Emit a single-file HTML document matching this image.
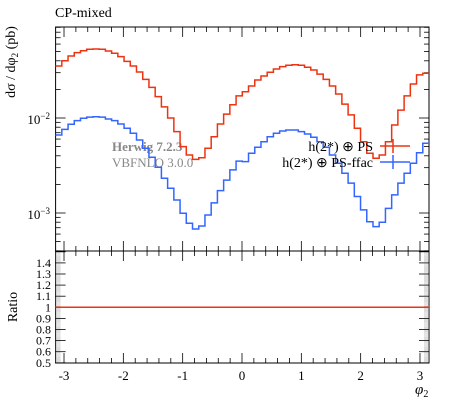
<!DOCTYPE html>
<html><head><meta charset="utf-8"><style>
body{margin:0;background:#fff}
svg{display:block;font-family:"Liberation Serif",serif}
</style></head><body>
<svg id="c" width="450" height="401" viewBox="0 0 450 401"></svg>
<script>
const unit = 1e-2;
const redVals = [3.53,4.01,4.50,4.87,5.11,5.29,5.32,5.29,5.07,4.80,4.42,3.95,3.53,3.05,2.55,2.10,1.68,1.31,1.00,0.718,0.499,0.408,0.367,0.382,0.480,0.635,0.865,1.10,1.38,1.71,
1.89,2.17,2.51,2.77,3.03,3.28,3.47,3.59,3.64,3.59,3.42,3.20,2.90,2.55,2.17,1.79,1.40,1.08,0.779,0.563,0.425,0.377,0.408,0.563,0.844,1.21,1.71,2.28,2.84,2.96];
const blueVals = [0.662,0.760,0.859,0.937,0.993,1.02,1.03,1.02,0.976,0.937,0.865,0.779,0.690,0.587,0.480,0.386,0.303,0.232,0.182,0.137,0.0993,0.078,0.0679,0.073,0.0953,0.128,0.172,0.222,0.284,0.352,
0.347,0.425,0.492,0.563,0.635,0.690,0.730,0.748,0.748,0.718,0.679,0.627,0.563,0.492,0.408,0.334,0.262,0.206,0.149,0.108,0.081,0.0718,0.0798,0.112,0.155,0.206,0.262,0.334,0.431,0.542];
const ratioVals = redVals.map(()=>1);
const xTickLabels = ["-3","-2","-1","0","1","2","3"];
const ratioTickLabels = ["0.5","0.6","0.7","0.8","0.9","1","1.1","1.2","1.3","1.4"];

const L=55.6,R=429,T=27,MB=251,RB=363;
const svg=document.getElementById('c');
const NS='http://www.w3.org/2000/svg';
function el(tag,attrs,parent){const e=document.createElementNS(NS,tag);for(const k in attrs)e.setAttribute(k,attrs[k]);(parent||svg).appendChild(e);return e;}
const xs=v=>242+v*59.33;
const ys=v=>118-(Math.log10(v)+2)*95;
const yr=v=>307.3-(v-1)*111;

let f1=el('rect',{x:L,y:T,width:R-L,height:MB-T,fill:'none',stroke:'#000','stroke-width':1});

let f2=el('rect',{x:L,y:MB,width:R-L,height:RB-MB,fill:'none',stroke:'#000','stroke-width':1});


const tg=el('g',{stroke:'#000','stroke-width':0.8});

for(let i=-15;i<=15;i++){const v=i/5;const x=xs(v);if(x<L||x>R)continue;const maj=(i%5===0);const len=maj?10:5;
 [[T,1],[MB,-1],[MB,1],[RB,-1]].forEach(([y0,d])=>el('line',{x1:x,x2:x,y1:y0,y2:y0+d*len},tg));}
for(let e=-4;e<=-1;e++)for(let m=1;m<=9;m++){const v=m*Math.pow(10,e);const y=ys(v);if(y<T||y>MB)continue;const len=m===1?10:5;
 el('line',{x1:L,x2:L+len,y1:y,y2:y},tg);el('line',{x1:R,x2:R-len,y1:y,y2:y},tg);}
const tg2=el('g',{stroke:'#aaa','stroke-width':0.4});

for(let i=50;i<=150;i++){const y=yr(i/100);if(i%10===0){el('line',{x1:L,x2:L+10,y1:y,y2:y,stroke:'#000'},tg);el('line',{x1:R,x2:R-10,y1:y,y2:y,stroke:'#000'},tg);}
 else{el('line',{x1:L,x2:L+5,y1:y,y2:y},tg2);el('line',{x1:R,x2:R-5,y1:y,y2:y},tg2);}}

function txt(s,x,y,attrs,name){const t=el('text',Object.assign({x:x,y:y,'font-size':13},attrs||{}));t.textContent=s;return t;}
txt('CP-mixed',55,17,{'font-size':14},'chart-title');
let txtMain=el('text',{x:0,y:0,'font-size':14,transform:'translate(15,62) rotate(-90)','text-anchor':'middle'});
txtMain.innerHTML='dσ / dφ<tspan font-size="9" dy="3">2</tspan><tspan dy="-3"> (pb)</tspan>';

let l1=el('text',{x:50,y:124,'font-size':13,'text-anchor':'end'});l1.innerHTML='10<tspan dy="-5" font-size="9">−2</tspan>';

let l2=el('text',{x:50,y:219,'font-size':13,'text-anchor':'end'});l2.innerHTML='10<tspan dy="-5" font-size="9">−3</tspan>';

ratioTickLabels.forEach(s=>txt(s,51,yr(parseFloat(s))+4,{'font-size':12,'text-anchor':'end'},'ratio-tick-label'));
txt('Ratio',0,0,{'font-size':14,transform:'translate(17,307) rotate(-90)','text-anchor':'middle'},'ratio-axis-title');
xTickLabels.forEach(s=>txt(s,xs(parseFloat(s)),380,{'font-size':13,'text-anchor':'middle'},'x-tick-label'));
let xt=el('text',{x:415,y:394,'font-size':15,'font-style':'italic'});xt.innerHTML='φ<tspan font-size="10" dy="3" font-style="normal">2</tspan>';

txt('Herwig 7.2.3',112,151,{'font-size':13,fill:'#888','font-weight':'bold'},'generator-label');
txt('VBFNLO 3.0.0',112,167,{'font-size':13,fill:'#888'},'generator-label-2');

function hist(vals,yf,color,name){const n=vals.length,w=(R-L)/n;let d='';
 vals.forEach((v,i)=>{const x0=L+i*w,x1=x0+w,y=yf(v*1);d+=(i===0?'M':'L')+x0.toFixed(2)+','+y.toFixed(2)+'L'+x1.toFixed(2)+','+y.toFixed(2);});
 const p=el('path',{d:d,fill:'none',stroke:color,'stroke-width':1.5});}
hist(redVals.map(v=>v*unit),ys,'#ee3311','red-histogram');
hist(blueVals.map(v=>v*unit),ys,'#3366ff','blue-histogram');
hist(ratioVals,yr,'#ee3311','ratio-line');

const lg=el('g',{});
let t1=el('text',{x:373,y:151,'font-size':14,'text-anchor':'end'},lg);t1.textContent='h(2*) ⊕ PS';

el('line',{x1:380,x2:410,y1:146,y2:146,stroke:'#ee3311','stroke-width':1.5},lg);
el('line',{x1:393,x2:393,y1:139,y2:153,stroke:'#ee3311','stroke-width':1.5},lg);
let t2=el('text',{x:373,y:167,'font-size':14,'text-anchor':'end'},lg);t2.textContent='h(2*) ⊕ PS-ffac';

el('line',{x1:380,x2:410,y1:162,y2:162,stroke:'#3366ff','stroke-width':1.5},lg);
el('line',{x1:393,x2:393,y1:155,y2:169,stroke:'#3366ff','stroke-width':1.5},lg);
</script>
</body></html>
